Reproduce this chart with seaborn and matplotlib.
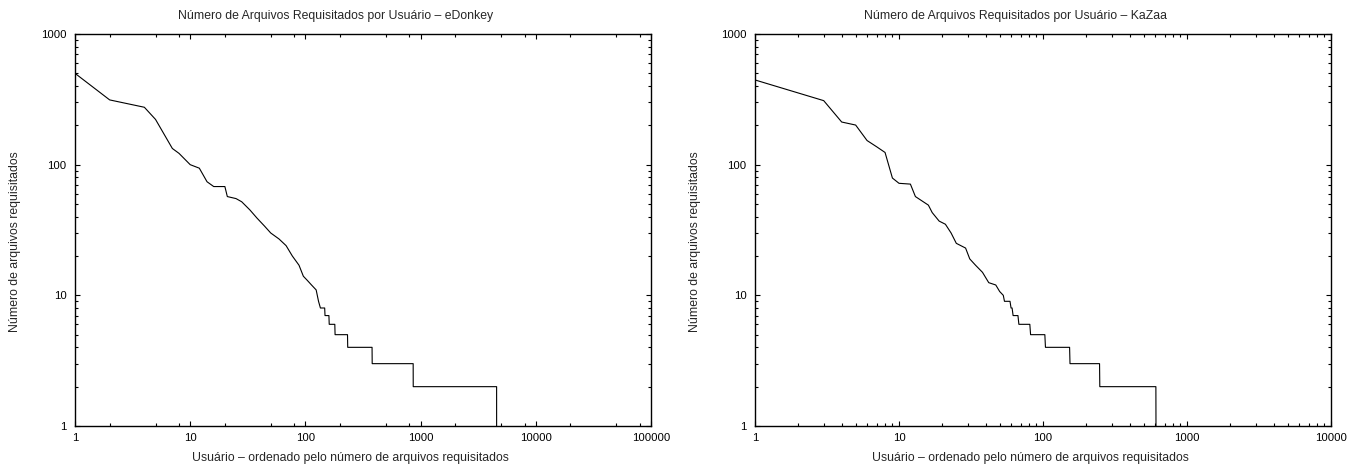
import numpy as np
import pandas as pd
import seaborn as sns
import matplotlib
matplotlib.use('Agg')
import matplotlib.pyplot as plt
from matplotlib.ticker import LogLocator, NullFormatter

# eDonkey: usuario (rank) x numero de arquivos requisitados
ed_rank = [1, 2, 4, 5, 7, 8, 10, 12, 14, 16, 20, 21, 25, 28, 33, 38, 44, 50, 59, 68,
           77, 88, 96, 104, 113, 124, 130, 135, 147, 148, 160, 161, 180, 181, 232, 233,
           379, 380, 862, 863, 4569, 4570]
ed_count = [500, 313, 275, 222, 133, 122, 100, 94, 74, 68, 68, 57, 55, 52, 45, 39, 34, 30, 27, 24,
            20, 17, 14, 13, 12, 11, 9, 8, 8, 7, 7, 6, 6, 5, 5, 4,
            4, 3, 3, 2, 2, 1]

# KaZaa
kz_rank = [1, 3, 4, 5, 6, 7, 8, 9, 10, 12, 13, 16, 17, 19, 21, 23, 25, 29, 31, 34,
           38, 42, 47, 50, 53, 54, 59, 60, 61, 62, 67, 68, 81, 82, 103, 104,
           153, 154, 247, 248, 608, 609]
kz_count = [445, 309, 212, 201, 153, 137, 124, 79, 72, 71, 57, 49, 43, 37, 35, 30, 25, 23, 19, 17,
            15, 12.5, 12, 10.7, 10, 9, 9, 8, 8, 7, 7, 6, 6, 5, 5, 4,
            4, 3, 3, 2, 2, 1]

titles = ['Número de Arquivos Requisitados por Usuário – eDonkey',
          'Número de Arquivos Requisitados por Usuário – KaZaa']
xlabel = 'Usuário – ordenado pelo número de arquivos requisitados'
ylabel = 'Número de arquivos requisitados'
ed_xticks = [1, 10, 100, 1000, 10000, 100000]
kz_xticks = [1, 10, 100, 1000, 10000]
yticks = [1, 10, 100, 1000]

sns.set_style('ticks')
plt.rcParams['font.family'] = ['Liberation Sans', 'DejaVu Sans']

fig = plt.figure(figsize=(13.66, 4.68), dpi=100)
ax1 = fig.add_axes([75 / 1366, 1 - 426 / 468, 576 / 1366, 392 / 468])
ax2 = fig.add_axes([755 / 1366, 1 - 426 / 468, 576 / 1366, 392 / 468])

panels = [
    (ax1, pd.DataFrame({'rank': ed_rank, 'count': ed_count}), ed_xticks, (2, 5, 8), titles[0]),
    (ax2, pd.DataFrame({'rank': kz_rank, 'count': kz_count}), kz_xticks, np.arange(2, 10), titles[1]),
]

for ax, df, xt, subs, title in panels:
    sns.lineplot(data=df, x='rank', y='count', ax=ax, color='black', lw=0.8,
                 estimator=None, sort=False)
    ax.set_xscale('log')
    ax.set_yscale('log')
    ax.set_xlim(xt[0], xt[-1])
    ax.set_ylim(1, 1000)
    ax.set_xticks(xt)
    ax.set_xticklabels([str(v) for v in xt])
    ax.set_yticks(yticks)
    ax.set_yticklabels([str(v) for v in yticks])
    ax.xaxis.set_minor_locator(LogLocator(base=10, subs=subs, numticks=20))
    ax.yaxis.set_minor_locator(LogLocator(base=10, subs=np.arange(2, 10), numticks=20))
    ax.xaxis.set_minor_formatter(NullFormatter())
    ax.yaxis.set_minor_formatter(NullFormatter())
    ax.tick_params(which='both', direction='in', top=True, right=True, width=0.8,
                   colors='black', labelsize=8.2)
    ax.tick_params(which='major', length=3.4)
    ax.tick_params(which='minor', length=1.9)
    ax.tick_params(axis='x', which='major', pad=5)
    ax.tick_params(axis='y', which='major', pad=6)
    for s in ax.spines.values():
        s.set_linewidth(1.0)
        s.set_color('black')
    ax.set_xlabel(xlabel, fontsize=8.8)
    ax.set_ylabel(ylabel, fontsize=8.8)
    ax.xaxis.set_label_coords(0.479, -0.066)
    ax.yaxis.set_label_coords(-0.093, 0.47)
    ax.set_title(title, fontsize=8.8, x=0.453, pad=11)

fig.savefig('out.png', dpi=100)
